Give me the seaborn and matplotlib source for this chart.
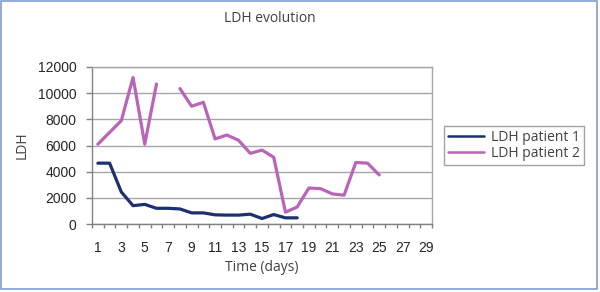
import numpy as np
import pandas as pd
import seaborn as sns
import matplotlib.pyplot as plt
from matplotlib.patches import Rectangle
from matplotlib.lines import Line2D

# data
days_p1 = list(range(1, 19))
ldh_p1 = [4650, 4650, 2450, 1400, 1500, 1200, 1200, 1150, 850, 850,
          700, 680, 680, 750, 420, 720, 470, 470]
days_p2 = list(range(1, 26))
ldh_p2 = [6100, 7000, 7900, 11200, 6100, 10700, np.nan, 10350, 9000, 9300,
          6500, 6800, 6400, 5400, 5650, 5100, 900, 1300, 2750, 2700,
          2300, 2200, 4700, 4650, 3750]
series_names = ["LDH patient 1", "LDH patient 2"]
colors = ["#1c2f6e", "#b964b9"]

# long form, gaps in a series become a new segment
rows = []
for name, days, vals in [(series_names[0], days_p1, ldh_p1),
                         (series_names[1], days_p2, ldh_p2)]:
    seg = 0
    for d, v in zip(days, vals):
        if np.isnan(v):
            seg += 1
            continue
        rows.append({"day": d, "LDH": v, "patient": name, "seg": f"{name}-{seg}"})
df = pd.DataFrame(rows)

sns.set_style("white")
plt.rcParams["font.family"] = ["Open Sans", "DejaVu Sans"]

fig = plt.figure(figsize=(6, 2.92), dpi=100)
ax = fig.add_axes([92 / 600, 1 - 224 / 292, 340 / 600, 157 / 292])

sns.lineplot(data=df, x="day", y="LDH", hue="patient", units="seg",
             estimator=None, palette=colors, linewidth=2.3, ax=ax,
             hue_order=series_names, legend=False)

ax.set_xlim(0.5, 29.5)
ax.set_ylim(0, 12000)
ax.set_yticks(range(0, 12001, 2000))
ax.set_xticks(range(1, 30, 2))
ax.set_xticks(np.arange(0.5, 30, 1), minor=True)
ax.grid(axis="y", color="#a6a6a6", linewidth=1)
ax.set_axisbelow(True)
for s in ax.spines.values():
    s.set_color("#a6a6a6")
    s.set_linewidth(1)
ax.spines["left"].set_color("#808080")
ax.spines["bottom"].set_color("#808080")

ax.tick_params(axis="y", which="major", length=4, width=1, color="#808080",
               direction="out", left=True, pad=7, labelsize=10,
               labelfontfamily="Liberation Sans")
ax.tick_params(axis="x", which="major", length=0, pad=12, labelsize=10,
               labelfontfamily="Liberation Sans")
ax.tick_params(axis="x", which="minor", length=3, width=1, color="#808080",
               direction="out", bottom=True)

ax.set_xlabel("Time (days)", fontsize=10, color="#404040", labelpad=4)
ax.set_ylabel("LDH", fontsize=10, color="#404040", labelpad=6)
fig.text(270 / 600, 1 - 19 / 292, "LDH evolution", ha="center", va="center",
         fontsize=10, color="#404040")

handles = [Line2D([], [], color=c, linewidth=1.8) for c in colors]
leg = fig.legend(handles, series_names, loc="upper left",
                 bbox_to_anchor=(444 / 600, 1 - 126 / 292),
                 frameon=True, fancybox=False, edgecolor="#8c8c8c",
                 fontsize=10, handlelength=2.6, handletextpad=0.5,
                 borderpad=0.3, labelspacing=0.05, borderaxespad=0)
leg.get_frame().set_linewidth(1)
for t in leg.get_texts():
    t.set_color("#404040")

fig.patches.append(Rectangle((1 / 600, 3 / 292), 596 / 600, 288 / 292,
                             transform=fig.transFigure, fill=False,
                             edgecolor="#7f9ccf", linewidth=1.2))

fig.savefig("out.png", dpi=100)
